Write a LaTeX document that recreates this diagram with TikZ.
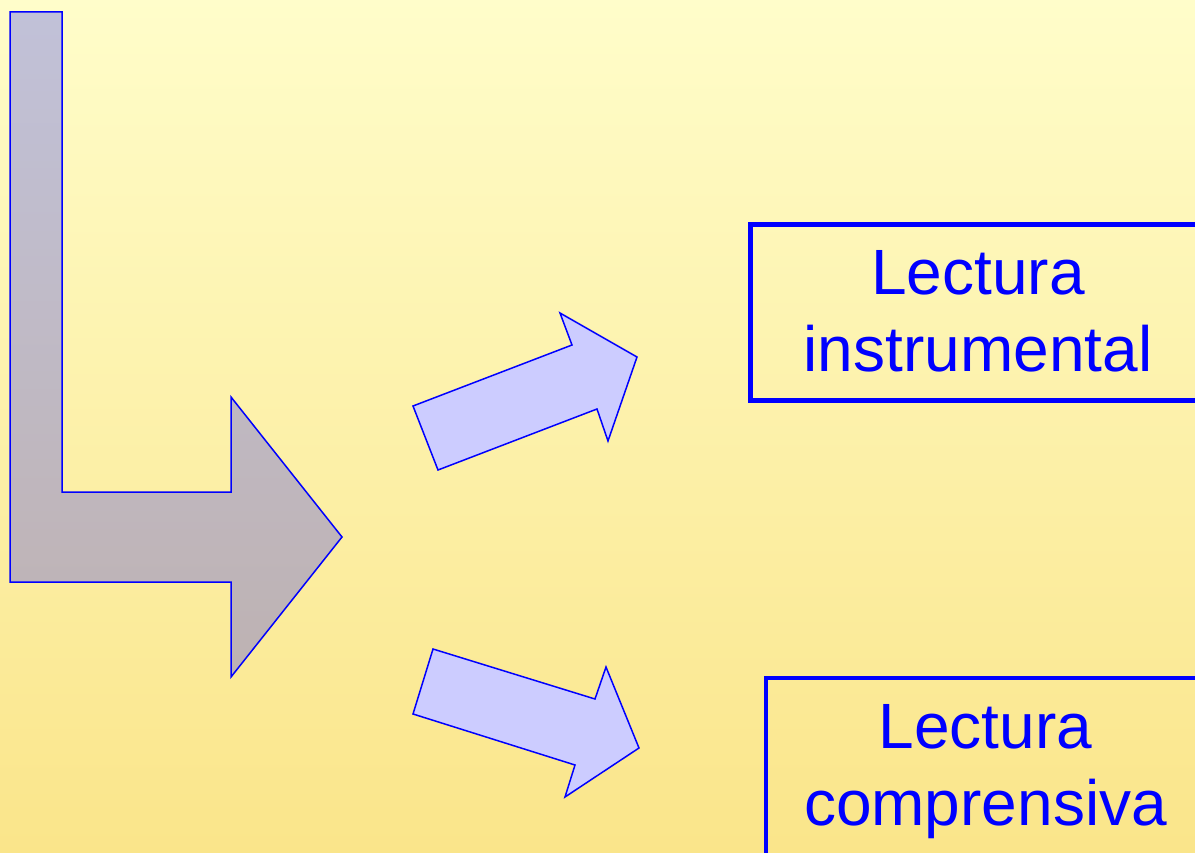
\documentclass[tikz,border=0pt]{standalone}
\usepackage{fontspec}
\setmainfont{Liberation Sans}
\definecolor{bgtop}{RGB}{255,253,202}
\definecolor{bgbot}{RGB}{250,229,138}
\definecolor{bendtop}{RGB}{193,193,216}
\definecolor{bendbot}{RGB}{190,178,178}
\definecolor{arrowfill}{RGB}{204,204,255}
\begin{document}
\begin{tikzpicture}[x=1pt,y=-1pt,
  outline/.style={draw=blue, line width=1.5pt, line join=miter},
  smallarrow/.style={outline, fill=arrowfill},
  framebox/.style={draw=blue, line width=4.5pt, inner sep=0pt, rectangle},
  boxtext/.style={text=blue, font=\fontsize{64}{77}\selectfont, align=center, inner sep=0pt}]
\useasboundingbox (0,0) rectangle (1195,853);
\shade[top color=bgtop, bottom color=bgbot] (0,0) rectangle (1195,853);
\begin{scope}
\clip (0,0) rectangle (1195,853);
% bent arrow
\path[outline, top color=bendtop, bottom color=bendbot]
  (10,12) -- (62,12) -- (62,492) -- (231,492) -- (231,397) -- (342,537)
  -- (231,677) -- (231,582) -- (10,582) -- cycle;
% upper small arrow
\path[smallarrow] (413,406) -- (572,345) -- (560,313) -- (637,357)
  -- (608,441) -- (597,409) -- (438,470) -- cycle;
% lower small arrow
\path[smallarrow] (433,649) -- (595,699) -- (606,667) -- (639,748)
  -- (565,797) -- (575,765) -- (413,714) -- cycle;
% boxes
\node[framebox, minimum width=455.5pt, minimum height=176pt] (b1) at (978,312.5) {};
\node[boxtext] (t1) at (978,311.5) {Lectura\\instrumental};
\node[framebox, minimum width=439pt, minimum height=190pt] (b2) at (985.5,773) {};
\node[boxtext] (t2) at (985.5,771.5) {Lectura\\comprensiva};
\end{scope}
\end{tikzpicture}
\end{document}
